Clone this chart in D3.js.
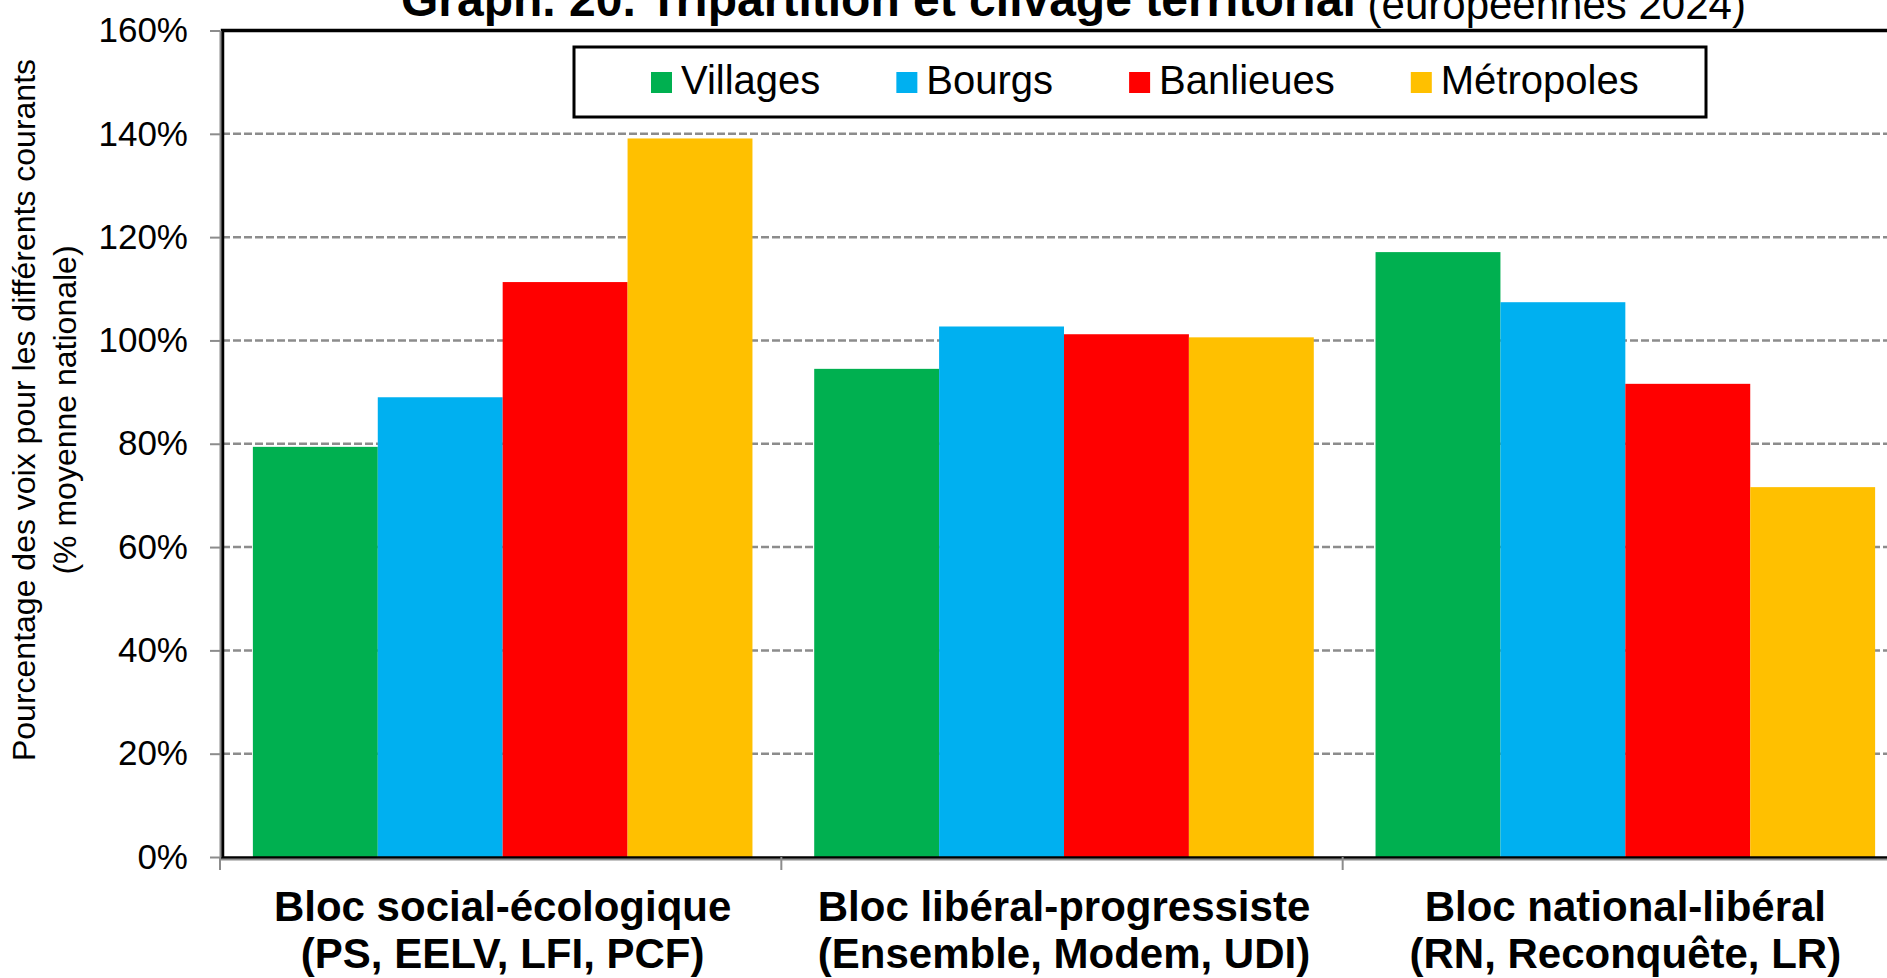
<!DOCTYPE html>
<html>
<head>
<meta charset="utf-8">
<script src="https://cdn.jsdelivr.net/npm/d3@7"></script>
<style>
  body { margin: 0; background: #fff; }
  svg { display: block; font-family: "Liberation Sans", Arial, sans-serif; }
</style>
</head>
<body>
<svg id="chart" width="1887" height="978"></svg>
<script>
// categories (two lines each) and series
var categories = ["Bloc social-écologique", "Bloc libéral-progressiste", "Bloc national-libéral"];
var categorySubs = ["(PS, EELV, LFI, PCF)", "(Ensemble, Modem, UDI)", "(RN, Reconquête, LR)"];
var seriesNames = ["Villages", "Bourgs", "Banlieues", "Métropoles"];

// values (share of national average)
var villages = [0.794, 0.945, 1.171];
var bourgs = [0.890, 1.027, 1.074];
var banlieues = [1.113, 1.012, 0.916];
var metropoles = [1.391, 1.006, 0.716];

var yTicks = [0, 0.2, 0.4, 0.6, 0.8, 1.0, 1.2, 1.4, 1.6];

var colors = ["#00B050", "#00B0F0", "#FF0000", "#FFC000"];

var seriesValues = [villages, bourgs, banlieues, metropoles];

var svg = d3.select("#chart");

var plotLeft = 222, plotRight = 1906, plotTop = 30.5, plotBottom = 857;

var x0 = d3.scaleBand()
    .domain(categories)
    .range([plotLeft, plotRight])
    .paddingInner(0.11)
    .paddingOuter(0.055);

var x1 = d3.scaleBand()
    .domain(seriesNames)
    .range([0, x0.bandwidth()]);

var y = d3.scaleLinear()
    .domain([0, 1.6])
    .range([plotBottom, plotTop]);

var color = d3.scaleOrdinal().domain(seriesNames).range(colors);

// dashed gridlines
svg.append("g")
    .attr("class", "grid")
    .selectAll("line")
    .data(yTicks.filter(function (d) { return d > 0 && d < 1.6; }))
    .enter().append("line")
    .attr("x1", plotLeft)
    .attr("x2", 1887)
    .attr("y1", function (d) { return y(d); })
    .attr("y2", function (d) { return y(d); })
    .attr("stroke", "#8c8c8c")
    .attr("stroke-width", 2.5)
    .attr("stroke-dasharray", "8,3");

// bars
var rows = [];
categories.forEach(function (c, i) {
    seriesNames.forEach(function (s, j) {
        rows.push({ cat: c, series: s, value: seriesValues[j][i] });
    });
});

svg.append("g")
    .selectAll("rect")
    .data(rows)
    .enter().append("rect")
    .attr("x", function (d) { return x0(d.cat) + x1(d.series); })
    .attr("y", function (d) { return y(d.value); })
    .attr("width", x1.bandwidth())
    .attr("height", function (d) { return y(0) - y(d.value); })
    .attr("fill", function (d) { return color(d.series); });

// plot area border
svg.append("rect")
    .attr("x", plotLeft + 0.5)
    .attr("y", plotTop)
    .attr("width", 1800)
    .attr("height", plotBottom - plotTop + 1)
    .attr("fill", "none")
    .attr("stroke", "#000")
    .attr("stroke-width", 3.5);

// y axis
var yAxis = d3.axisLeft(y)
    .tickValues(yTicks)
    .tickFormat(d3.format(".0%"))
    .tickSizeInner(10)
    .tickSizeOuter(0)
    .tickPadding(22);

var yg = svg.append("g")
    .attr("transform", "translate(" + (plotLeft - 2) + ",0)")
    .call(yAxis);
yg.select(".domain").attr("stroke", "#8c8c8c").attr("stroke-width", 2);
yg.selectAll(".tick line").attr("stroke", "#8c8c8c").attr("stroke-width", 2);
yg.selectAll(".tick text")
    .attr("fill", "#000")
    .style("font-size", "35px")
    .style("font-family", "'Liberation Sans', Arial, sans-serif");

// x axis line and boundary ticks
var gapHalf = (x0.step() - x0.bandwidth()) / 2;
var bounds = categories.map(function (c) { return x0(c) - gapHalf; });
bounds.push(x0(categories[categories.length - 1]) + x0.bandwidth() + gapHalf);

var xg = svg.append("g");
xg.append("line")
    .attr("x1", plotLeft - 2).attr("x2", 1887)
    .attr("y1", plotBottom + 2.5).attr("y2", plotBottom + 2.5)
    .attr("stroke", "#8c8c8c").attr("stroke-width", 2);
xg.selectAll(".xtick")
    .data(bounds)
    .enter().append("line")
    .attr("class", "xtick")
    .attr("x1", function (d) { return d - 2; })
    .attr("x2", function (d) { return d - 2; })
    .attr("y1", plotBottom)
    .attr("y2", plotBottom + 13)
    .attr("stroke", "#8c8c8c").attr("stroke-width", 2);

var labels = xg.selectAll(".xlabel")
    .data(categories)
    .enter().append("text")
    .attr("class", "xlabel")
    .attr("text-anchor", "middle")
    .style("font-size", "42px")
    .style("font-weight", "bold");
labels.append("tspan")
    .attr("x", function (d) { return x0(d) + x0.bandwidth() / 2; })
    .attr("y", 921)
    .text(function (d) { return d; });
labels.append("tspan")
    .attr("x", function (d) { return x0(d) + x0.bandwidth() / 2; })
    .attr("y", 968)
    .text(function (d, i) { return categorySubs[i]; });

// y axis title
var yTitle = svg.append("g").style("font-size", "32px");
yTitle.append("text")
    .attr("transform", "translate(35,410) rotate(-90)")
    .attr("text-anchor", "middle")
    .text("Pourcentage des voix pour les différents courants");
yTitle.append("text")
    .attr("transform", "translate(76,410) rotate(-90)")
    .attr("text-anchor", "middle")
    .text("(% moyenne nationale)");

// title (top is cut off in the original)
var title = svg.append("text")
    .attr("x", 401)
    .attr("y", 16);
title.append("tspan")
    .style("font-size", "48px")
    .style("font-weight", "bold")
    .text("Graph. 20. Tripartition et clivage territorial");
title.append("tspan")
    .attr("dy", 3)
    .style("font-size", "42px")
    .text(" (européennes 2024)");

// legend
var legend = svg.append("g");
legend.append("rect")
    .attr("x", 574).attr("y", 47)
    .attr("width", 1132).attr("height", 70)
    .attr("fill", "#fff")
    .attr("stroke", "#000")
    .attr("stroke-width", 3);

var lx = 651;
seriesNames.forEach(function (s) {
    legend.append("rect")
        .attr("x", lx).attr("y", 72)
        .attr("width", 21).attr("height", 21)
        .attr("fill", color(s));
    var t = legend.append("text")
        .attr("x", lx + 30).attr("y", 93.5)
        .style("font-size", "40px")
        .text(s);
    lx = lx + 30 + t.node().getComputedTextLength() + 76;
});
</script>
</body>
</html>
